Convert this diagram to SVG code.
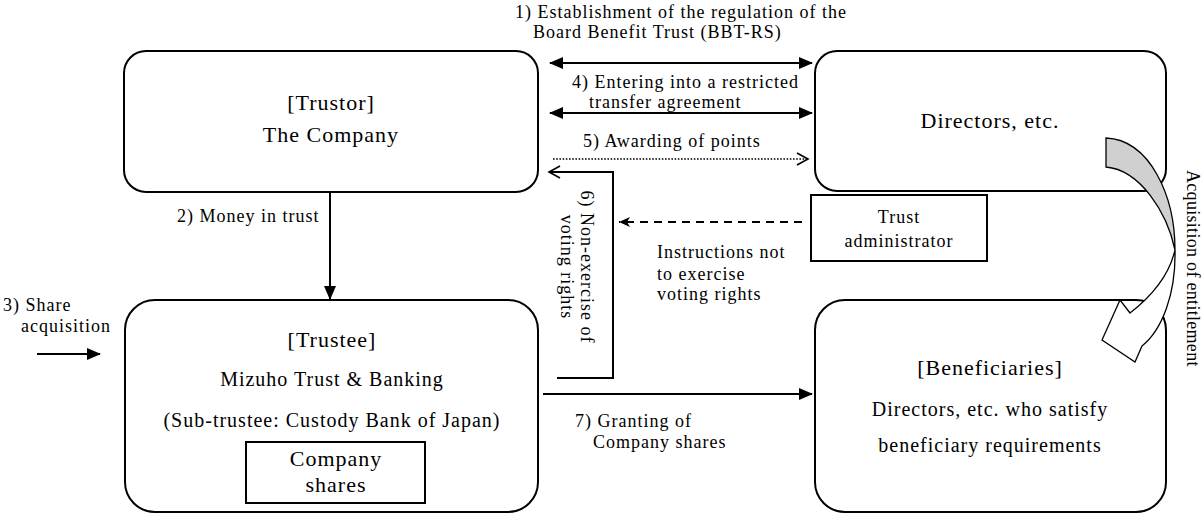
<svg xmlns="http://www.w3.org/2000/svg" width="1204" height="514" viewBox="0 0 1204 514">
<style>
text{font-family:"Liberation Serif","Times New Roman",serif;fill:#000;letter-spacing:1px}
.big{font-size:22px}
.mid{font-size:20px}
.lab{font-size:18px}
.box{fill:#fff;stroke:#000;stroke-width:2}
.ln{fill:none;stroke:#000;stroke-width:2}
.c{text-anchor:middle}
</style>
<defs>
<marker id="ah" markerUnits="userSpaceOnUse" markerWidth="14" markerHeight="12" refX="13" refY="6" orient="auto-start-reverse">
<path d="M0,0 L14,6 L0,12 z" fill="#000"/>
</marker>
<marker id="open" markerUnits="userSpaceOnUse" markerWidth="14" markerHeight="14" refX="12" refY="7" orient="auto">
<path d="M1,1 L12,7 L1,13" fill="none" stroke="#000" stroke-width="1.6"/>
</marker>
<marker id="small" markerUnits="userSpaceOnUse" markerWidth="12" markerHeight="12" refX="11" refY="6" orient="auto">
<path d="M0,1 L11,6 L0,11 L3,6 z" fill="#000"/>
</marker>
</defs>

<g id="connectors">
<line class="ln" x1="550" y1="63" x2="812" y2="63" marker-start="url(#ah)" marker-end="url(#ah)"/>
<line class="ln" x1="550" y1="113" x2="812" y2="113" marker-start="url(#ah)" marker-end="url(#ah)"/>
<line x1="553" y1="159" x2="808" y2="159" stroke="#000" stroke-width="1.6" stroke-dasharray="1.6 1.6" marker-end="url(#open)"/>
<polyline class="ln" points="557,378 613,378 613,172 549,172" marker-end="url(#open)"/>
<line x1="802" y1="222" x2="619" y2="222" stroke="#000" stroke-width="2" stroke-dasharray="8 6" marker-end="url(#small)"/>
<line class="ln" x1="330" y1="192" x2="330" y2="299" marker-end="url(#ah)"/>
<line class="ln" x1="37" y1="354" x2="100" y2="354" marker-end="url(#ah)"/>
<line class="ln" x1="543" y1="394" x2="812" y2="394" marker-end="url(#ah)"/>
</g>

<g id="labels">
<text class="lab" x="515" y="18">1) Establishment of the regulation of the</text>
<text class="lab" x="533" y="38">Board Benefit Trust (BBT-RS)</text>
<text class="lab" x="572" y="88">4) Entering into a restricted</text>
<text class="lab" x="589" y="108">transfer agreement</text>
<text class="lab" x="583" y="147">5) Awarding of points</text>
<text class="lab" x="177" y="222">2) Money in trust</text>
<text class="lab" x="3" y="311">3) Share</text>
<text class="lab" x="21" y="332">acquisition</text>
<text class="lab" x="657" y="258">Instructions not</text>
<text class="lab" x="657" y="280">to exercise</text>
<text class="lab" x="657" y="300">voting rights</text>
<text class="lab" x="575" y="427">7) Granting of</text>
<text class="lab" x="593" y="448">Company shares</text>
<text class="lab c" transform="translate(581,267) rotate(90)">6) Non-exercise of</text>
<text class="lab c" transform="translate(561,267) rotate(90)">voting rights</text>
</g>

<g id="trustor">
<rect class="box" x="124" y="51" width="414" height="141" rx="22"/>
<text class="big c" x="331" y="110">[Trustor]</text>
<text class="big c" x="331" y="142">The Company</text>
</g>

<g id="directors">
<rect class="box" x="815" y="51" width="351" height="140" rx="22"/>
<text class="big c" x="990" y="128">Directors, etc.</text>
</g>

<g id="trust-administrator">
<rect class="box" x="811" y="195" width="176" height="66"/>
<text class="lab c" x="899" y="223">Trust</text>
<text class="lab c" x="899" y="247">administrator</text>
</g>

<g id="trustee">
<rect class="box" x="125" y="300" width="413" height="212" rx="30"/>
<text class="big c" x="332" y="347">[Trustee]</text>
<text class="mid c" x="332" y="386">Mizuho Trust &amp; Banking</text>
<text class="mid c" x="332" y="427">(Sub-trustee: Custody Bank of Japan)</text>
<g id="company-shares">
<rect class="box" x="246" y="442" width="179" height="61"/>
<text class="big c" x="336" y="466">Company</text>
<text class="big c" x="336" y="492">shares</text>
</g>
</g>

<g id="beneficiaries">
<rect class="box" x="815" y="300" width="351" height="212" rx="30"/>
<text class="big c" x="990" y="375">[Beneficiaries]</text>
<text class="mid c" x="990" y="416">Directors, etc. who satisfy</text>
<text class="mid c" x="990" y="452">beneficiary requirements</text>
</g>

<g id="entitlement-arrow">
<path d="M1106,138 C1150,140 1175,196 1175,250 C1167,212 1140,170 1106,167 Z" fill="#d0d0d0" stroke="#000" stroke-width="1.3"/>
<path d="M1175,250 C1176,294 1162,330 1142,346 L1135,362 L1102,340 L1120,300 L1130,313 C1152,296 1169,276 1175,250 Z" fill="#fff" stroke="#000" stroke-width="1.3"/>
<text class="lab" style="letter-spacing:0.3px" transform="translate(1187,170) rotate(90)">Acquisition of entitlement</text>
</g>
</svg>
